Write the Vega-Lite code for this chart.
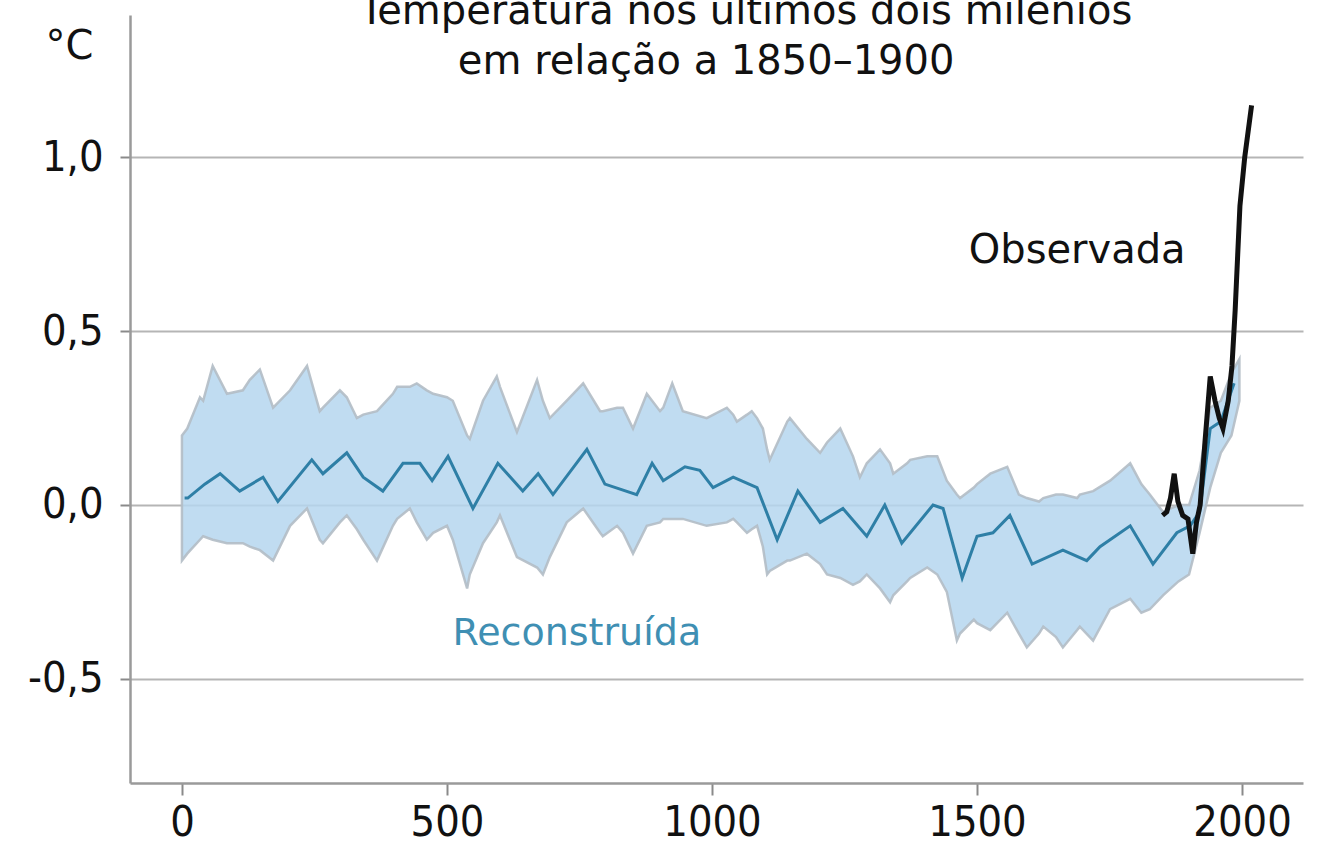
{
  "$schema": "https://vega.github.io/schema/vega-lite/v6.json",
  "width": 1173,
  "height": 768,
  "autosize": "none",
  "padding": {"left": 130, "top": 15, "right": 17, "bottom": 63},
  "background": "white",
  "datasets": {
    "band": [
      {"year": 0, "hi": 0.20, "lo": -0.16}, {"year": 10, "hi": 0.22, "lo": -0.14}, {"year": 34, "hi": 0.31, "lo": -0.10},
      {"year": 40, "hi": 0.30, "lo": -0.09}, {"year": 58, "hi": 0.40, "lo": -0.10}, {"year": 85, "hi": 0.32, "lo": -0.11},
      {"year": 115, "hi": 0.33, "lo": -0.11}, {"year": 128, "hi": 0.36, "lo": -0.12}, {"year": 147, "hi": 0.39, "lo": -0.13},
      {"year": 172, "hi": 0.28, "lo": -0.16}, {"year": 204, "hi": 0.33, "lo": -0.06}, {"year": 236, "hi": 0.40, "lo": -0.01},
      {"year": 260, "hi": 0.27, "lo": -0.10}, {"year": 266, "hi": 0.28, "lo": -0.11}, {"year": 298, "hi": 0.33, "lo": -0.05},
      {"year": 311, "hi": 0.31, "lo": -0.03}, {"year": 330, "hi": 0.25, "lo": -0.07}, {"year": 342, "hi": 0.26, "lo": -0.10},
      {"year": 368, "hi": 0.27, "lo": -0.16}, {"year": 374, "hi": 0.28, "lo": -0.14}, {"year": 398, "hi": 0.32, "lo": -0.06},
      {"year": 406, "hi": 0.34, "lo": -0.04}, {"year": 430, "hi": 0.34, "lo": -0.01}, {"year": 443, "hi": 0.35, "lo": -0.05},
      {"year": 462, "hi": 0.33, "lo": -0.10}, {"year": 474, "hi": 0.32, "lo": -0.08}, {"year": 500, "hi": 0.31, "lo": -0.06},
      {"year": 511, "hi": 0.30, "lo": -0.10}, {"year": 538, "hi": 0.20, "lo": -0.24}, {"year": 543, "hi": 0.19, "lo": -0.20},
      {"year": 568, "hi": 0.30, "lo": -0.11}, {"year": 594, "hi": 0.37, "lo": -0.05}, {"year": 600, "hi": 0.34, "lo": -0.03},
      {"year": 632, "hi": 0.21, "lo": -0.15}, {"year": 670, "hi": 0.36, "lo": -0.18}, {"year": 681, "hi": 0.30, "lo": -0.20},
      {"year": 694, "hi": 0.25, "lo": -0.15}, {"year": 726, "hi": 0.30, "lo": -0.05}, {"year": 757, "hi": 0.35, "lo": -0.01},
      {"year": 789, "hi": 0.27, "lo": -0.08}, {"year": 794, "hi": 0.27, "lo": -0.09}, {"year": 821, "hi": 0.28, "lo": -0.06},
      {"year": 832, "hi": 0.28, "lo": -0.08}, {"year": 851, "hi": 0.22, "lo": -0.14}, {"year": 877, "hi": 0.32, "lo": -0.06},
      {"year": 902, "hi": 0.27, "lo": -0.05}, {"year": 908, "hi": 0.28, "lo": -0.04}, {"year": 925, "hi": 0.35, "lo": -0.04},
      {"year": 945, "hi": 0.27, "lo": -0.04}, {"year": 990, "hi": 0.25, "lo": -0.06}, {"year": 1028, "hi": 0.28, "lo": -0.05},
      {"year": 1040, "hi": 0.26, "lo": -0.04}, {"year": 1047, "hi": 0.24, "lo": -0.05}, {"year": 1066, "hi": 0.26, "lo": -0.08},
      {"year": 1075, "hi": 0.27, "lo": -0.07}, {"year": 1085, "hi": 0.25, "lo": -0.06}, {"year": 1096, "hi": 0.22, "lo": -0.12},
      {"year": 1104, "hi": 0.16, "lo": -0.20}, {"year": 1109, "hi": 0.13, "lo": -0.19}, {"year": 1142, "hi": 0.24, "lo": -0.16},
      {"year": 1147, "hi": 0.25, "lo": -0.16}, {"year": 1179, "hi": 0.19, "lo": -0.14}, {"year": 1204, "hi": 0.15, "lo": -0.17},
      {"year": 1217, "hi": 0.18, "lo": -0.20}, {"year": 1242, "hi": 0.22, "lo": -0.21}, {"year": 1266, "hi": 0.14, "lo": -0.23},
      {"year": 1279, "hi": 0.08, "lo": -0.22}, {"year": 1292, "hi": 0.12, "lo": -0.20}, {"year": 1317, "hi": 0.16, "lo": -0.24},
      {"year": 1336, "hi": 0.12, "lo": -0.28}, {"year": 1342, "hi": 0.09, "lo": -0.26}, {"year": 1368, "hi": 0.12, "lo": -0.22},
      {"year": 1374, "hi": 0.13, "lo": -0.21}, {"year": 1406, "hi": 0.14, "lo": -0.18}, {"year": 1425, "hi": 0.14, "lo": -0.20},
      {"year": 1443, "hi": 0.07, "lo": -0.25}, {"year": 1462, "hi": 0.03, "lo": -0.39}, {"year": 1468, "hi": 0.02, "lo": -0.37},
      {"year": 1494, "hi": 0.05, "lo": -0.33}, {"year": 1500, "hi": 0.06, "lo": -0.34}, {"year": 1525, "hi": 0.09, "lo": -0.36},
      {"year": 1557, "hi": 0.11, "lo": -0.31}, {"year": 1579, "hi": 0.03, "lo": -0.37}, {"year": 1594, "hi": 0.02, "lo": -0.41},
      {"year": 1617, "hi": 0.01, "lo": -0.37}, {"year": 1625, "hi": 0.02, "lo": -0.35}, {"year": 1649, "hi": 0.03, "lo": -0.38},
      {"year": 1662, "hi": 0.03, "lo": -0.41}, {"year": 1689, "hi": 0.02, "lo": -0.36}, {"year": 1694, "hi": 0.03, "lo": -0.35},
      {"year": 1719, "hi": 0.04, "lo": -0.39}, {"year": 1751, "hi": 0.07, "lo": -0.30}, {"year": 1789, "hi": 0.12, "lo": -0.27},
      {"year": 1810, "hi": 0.06, "lo": -0.31}, {"year": 1826, "hi": 0.03, "lo": -0.30}, {"year": 1851, "hi": -0.02, "lo": -0.26},
      {"year": 1880, "hi": 0.00, "lo": -0.22}, {"year": 1900, "hi": 0.00, "lo": -0.20}, {"year": 1920, "hi": 0.10, "lo": -0.08},
      {"year": 1940, "hi": 0.28, "lo": 0.05}, {"year": 1960, "hi": 0.30, "lo": 0.15}, {"year": 1980, "hi": 0.38, "lo": 0.20},
      {"year": 1995, "hi": 0.42, "lo": 0.30}
    ],
    "recon": [
      {"year": 5, "v": 0.02}, {"year": 11, "v": 0.02}, {"year": 43, "v": 0.06}, {"year": 72, "v": 0.09}, {"year": 109, "v": 0.04},
      {"year": 153, "v": 0.08}, {"year": 181, "v": 0.01}, {"year": 245, "v": 0.13}, {"year": 266, "v": 0.09}, {"year": 311, "v": 0.15},
      {"year": 342, "v": 0.08}, {"year": 379, "v": 0.04}, {"year": 417, "v": 0.12}, {"year": 449, "v": 0.12}, {"year": 472, "v": 0.07},
      {"year": 502, "v": 0.14}, {"year": 549, "v": -0.01}, {"year": 596, "v": 0.12}, {"year": 643, "v": 0.04}, {"year": 672, "v": 0.09},
      {"year": 700, "v": 0.03}, {"year": 764, "v": 0.16}, {"year": 798, "v": 0.06}, {"year": 858, "v": 0.03}, {"year": 887, "v": 0.12},
      {"year": 908, "v": 0.07}, {"year": 949, "v": 0.11}, {"year": 977, "v": 0.10}, {"year": 1002, "v": 0.05}, {"year": 1040, "v": 0.08},
      {"year": 1085, "v": 0.05}, {"year": 1123, "v": -0.10}, {"year": 1162, "v": 0.04}, {"year": 1204, "v": -0.05}, {"year": 1247, "v": -0.01},
      {"year": 1292, "v": -0.09}, {"year": 1326, "v": 0.00}, {"year": 1358, "v": -0.11}, {"year": 1417, "v": 0.00}, {"year": 1436, "v": -0.01},
      {"year": 1472, "v": -0.21}, {"year": 1500, "v": -0.09}, {"year": 1530, "v": -0.08}, {"year": 1562, "v": -0.03}, {"year": 1604, "v": -0.17},
      {"year": 1662, "v": -0.13}, {"year": 1707, "v": -0.16}, {"year": 1732, "v": -0.12}, {"year": 1789, "v": -0.06}, {"year": 1832, "v": -0.17},
      {"year": 1877, "v": -0.08}, {"year": 1902, "v": -0.06}, {"year": 1920, "v": -0.02}, {"year": 1940, "v": 0.22}, {"year": 1960, "v": 0.24},
      {"year": 1985, "v": 0.35}
    ],
    "obs": [
      {"year": 1850, "v": -0.03}, {"year": 1858, "v": -0.02}, {"year": 1865, "v": 0.02}, {"year": 1872, "v": 0.09}, {"year": 1879, "v": 0.01},
      {"year": 1888, "v": -0.03}, {"year": 1898, "v": -0.04}, {"year": 1907, "v": -0.14}, {"year": 1914, "v": -0.05}, {"year": 1921, "v": 0.00},
      {"year": 1930, "v": 0.18}, {"year": 1940, "v": 0.37}, {"year": 1949, "v": 0.30}, {"year": 1957, "v": 0.25}, {"year": 1964, "v": 0.22},
      {"year": 1974, "v": 0.30}, {"year": 1981, "v": 0.40}, {"year": 1987, "v": 0.56}, {"year": 1996, "v": 0.86}, {"year": 2005, "v": 1.00},
      {"year": 2018, "v": 1.15}
    ],
    "labelsDark": [
      {"year": 1064, "v": 1.383, "label": "Temperatura nos últimos dois milênios"},
      {"year": 989, "v": 1.239, "label": "em relação a 1850–1900"},
      {"year": 1689, "v": 0.697, "label": "Observada"}
    ],
    "labelsBlue": [
      {"year": 745, "v": -0.403, "label": "Reconstruída"}
    ]
  },
  "layer": [
    {
      "data": {"name": "band"},
      "mark": {"type": "area", "fill": "#b5d6ef", "fillOpacity": 0.85, "stroke": "#b2bcc5", "strokeWidth": 2.5, "strokeOpacity": 0.9},
      "encoding": {
        "x": {"field": "year", "type": "quantitative", "scale": {"domain": [-98, 2115], "nice": false, "zero": false},
          "axis": {"values": [0, 500, 1000, 1500, 2000], "format": "d", "grid": false, "title": null,
            "tickSize": 12, "labelPadding": 40, "labelBaseline": "alphabetic", "labelFont": "DejaVu Sans Condensed, DejaVu Sans", "labelFontSize": 43, "labelColor": "#111111",
            "domainColor": "#9a9a9a", "domainWidth": 2.5, "tickColor": "#8a8a8a", "tickWidth": 2}},
        "y": {"field": "hi", "type": "quantitative", "scale": {"domain": [-0.8, 1.41], "nice": false, "zero": false},
          "axis": {"values": [-0.5, 0, 0.5, 1.0], "format": ".1f", "grid": true, "gridColor": "#b5b5b5", "gridWidth": 2,
            "tickSize": 10, "labelPadding": 17, "labelFont": "DejaVu Sans Condensed, DejaVu Sans", "labelFontSize": 43, "labelColor": "#111111",
            "domainColor": "#9a9a9a", "domainWidth": 2.5, "tickColor": "#8a8a8a", "tickWidth": 2,
            "title": "°C", "titleAngle": 0, "titleAlign": "center", "titleBaseline": "alphabetic", "titleX": -61, "titleY": 43,
            "titleFont": "DejaVu Sans", "titleFontSize": 40, "titleFontWeight": "normal", "titleColor": "#111111"}},
        "y2": {"field": "lo"}
      }
    },
    {
      "data": {"name": "recon"},
      "mark": {"type": "line", "color": "#2e7fa6", "strokeWidth": 3},
      "encoding": {
        "x": {"field": "year", "type": "quantitative"},
        "y": {"field": "v", "type": "quantitative"}
      }
    },
    {
      "data": {"name": "obs"},
      "mark": {"type": "line", "color": "#111111", "strokeWidth": 5},
      "encoding": {
        "x": {"field": "year", "type": "quantitative"},
        "y": {"field": "v", "type": "quantitative"}
      }
    },
    {
      "data": {"name": "labelsDark"},
      "mark": {"type": "text", "font": "DejaVu Sans", "fontSize": 40, "color": "#111111", "align": "center", "baseline": "alphabetic"},
      "encoding": {
        "x": {"field": "year", "type": "quantitative"},
        "y": {"field": "v", "type": "quantitative"},
        "text": {"field": "label"}
      }
    },
    {
      "data": {"name": "labelsBlue"},
      "mark": {"type": "text", "font": "DejaVu Sans", "fontSize": 38, "color": "#3f8fb3", "align": "center", "baseline": "alphabetic"},
      "encoding": {
        "x": {"field": "year", "type": "quantitative"},
        "y": {"field": "v", "type": "quantitative"},
        "text": {"field": "label"}
      }
    }
  ],
  "config": {
    "view": {"stroke": null},
    "locale": {"number": {"decimal": ",", "thousands": ".", "grouping": [3], "currency": ["", ""], "minus": "-"}}
  }
}
